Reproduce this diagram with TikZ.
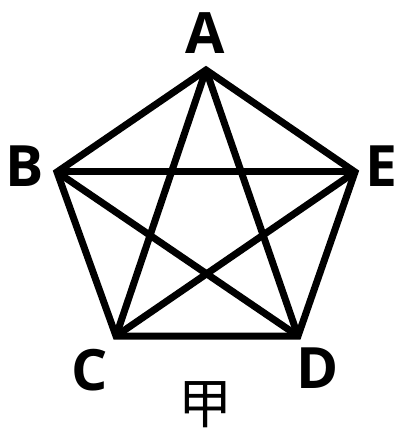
\documentclass[tikz,border=0pt]{standalone}
\usepackage{fontspec}
\setmainfont{Open Sans}
\newfontfamily\cjk{Noto Sans CJK SC}
\begin{document}
\begin{tikzpicture}[x=1pt,y=-1pt,
  edge/.style={line width=7pt,line join=miter,miter limit=20},
  lab/.style={inner sep=0pt,font=\fontsize{57}{60}\selectfont\bfseries}]
\useasboundingbox (0,0) rectangle (396,430);
\coordinate (A) at (206,70);
\coordinate (B) at (57,172);
\coordinate (E) at (355,172);
\coordinate (C) at (116,336);
\coordinate (D) at (298,336);
\draw[edge] (A) -- (B) -- (C) -- (D) -- (E) -- cycle;
\draw[edge] (A) -- (C);
\draw[edge] (A) -- (D);
\draw[edge] (B) -- (E);
\draw[edge] (B) -- (D);
\draw[edge] (E) -- (C);
\node[lab] (la) at (205,33) {A};
\node[lab] (lb) at (25,166) {B};
\node[lab] (le) at (381,166) {E};
\node[lab] (lc) at (90,370) {C};
\node[lab] (ld) at (318,368) {D};
\node[inner sep=0pt,font=\cjk\fontsize{54}{58}\selectfont] (jia) at (205,405) {甲};
\end{tikzpicture}
\end{document}
